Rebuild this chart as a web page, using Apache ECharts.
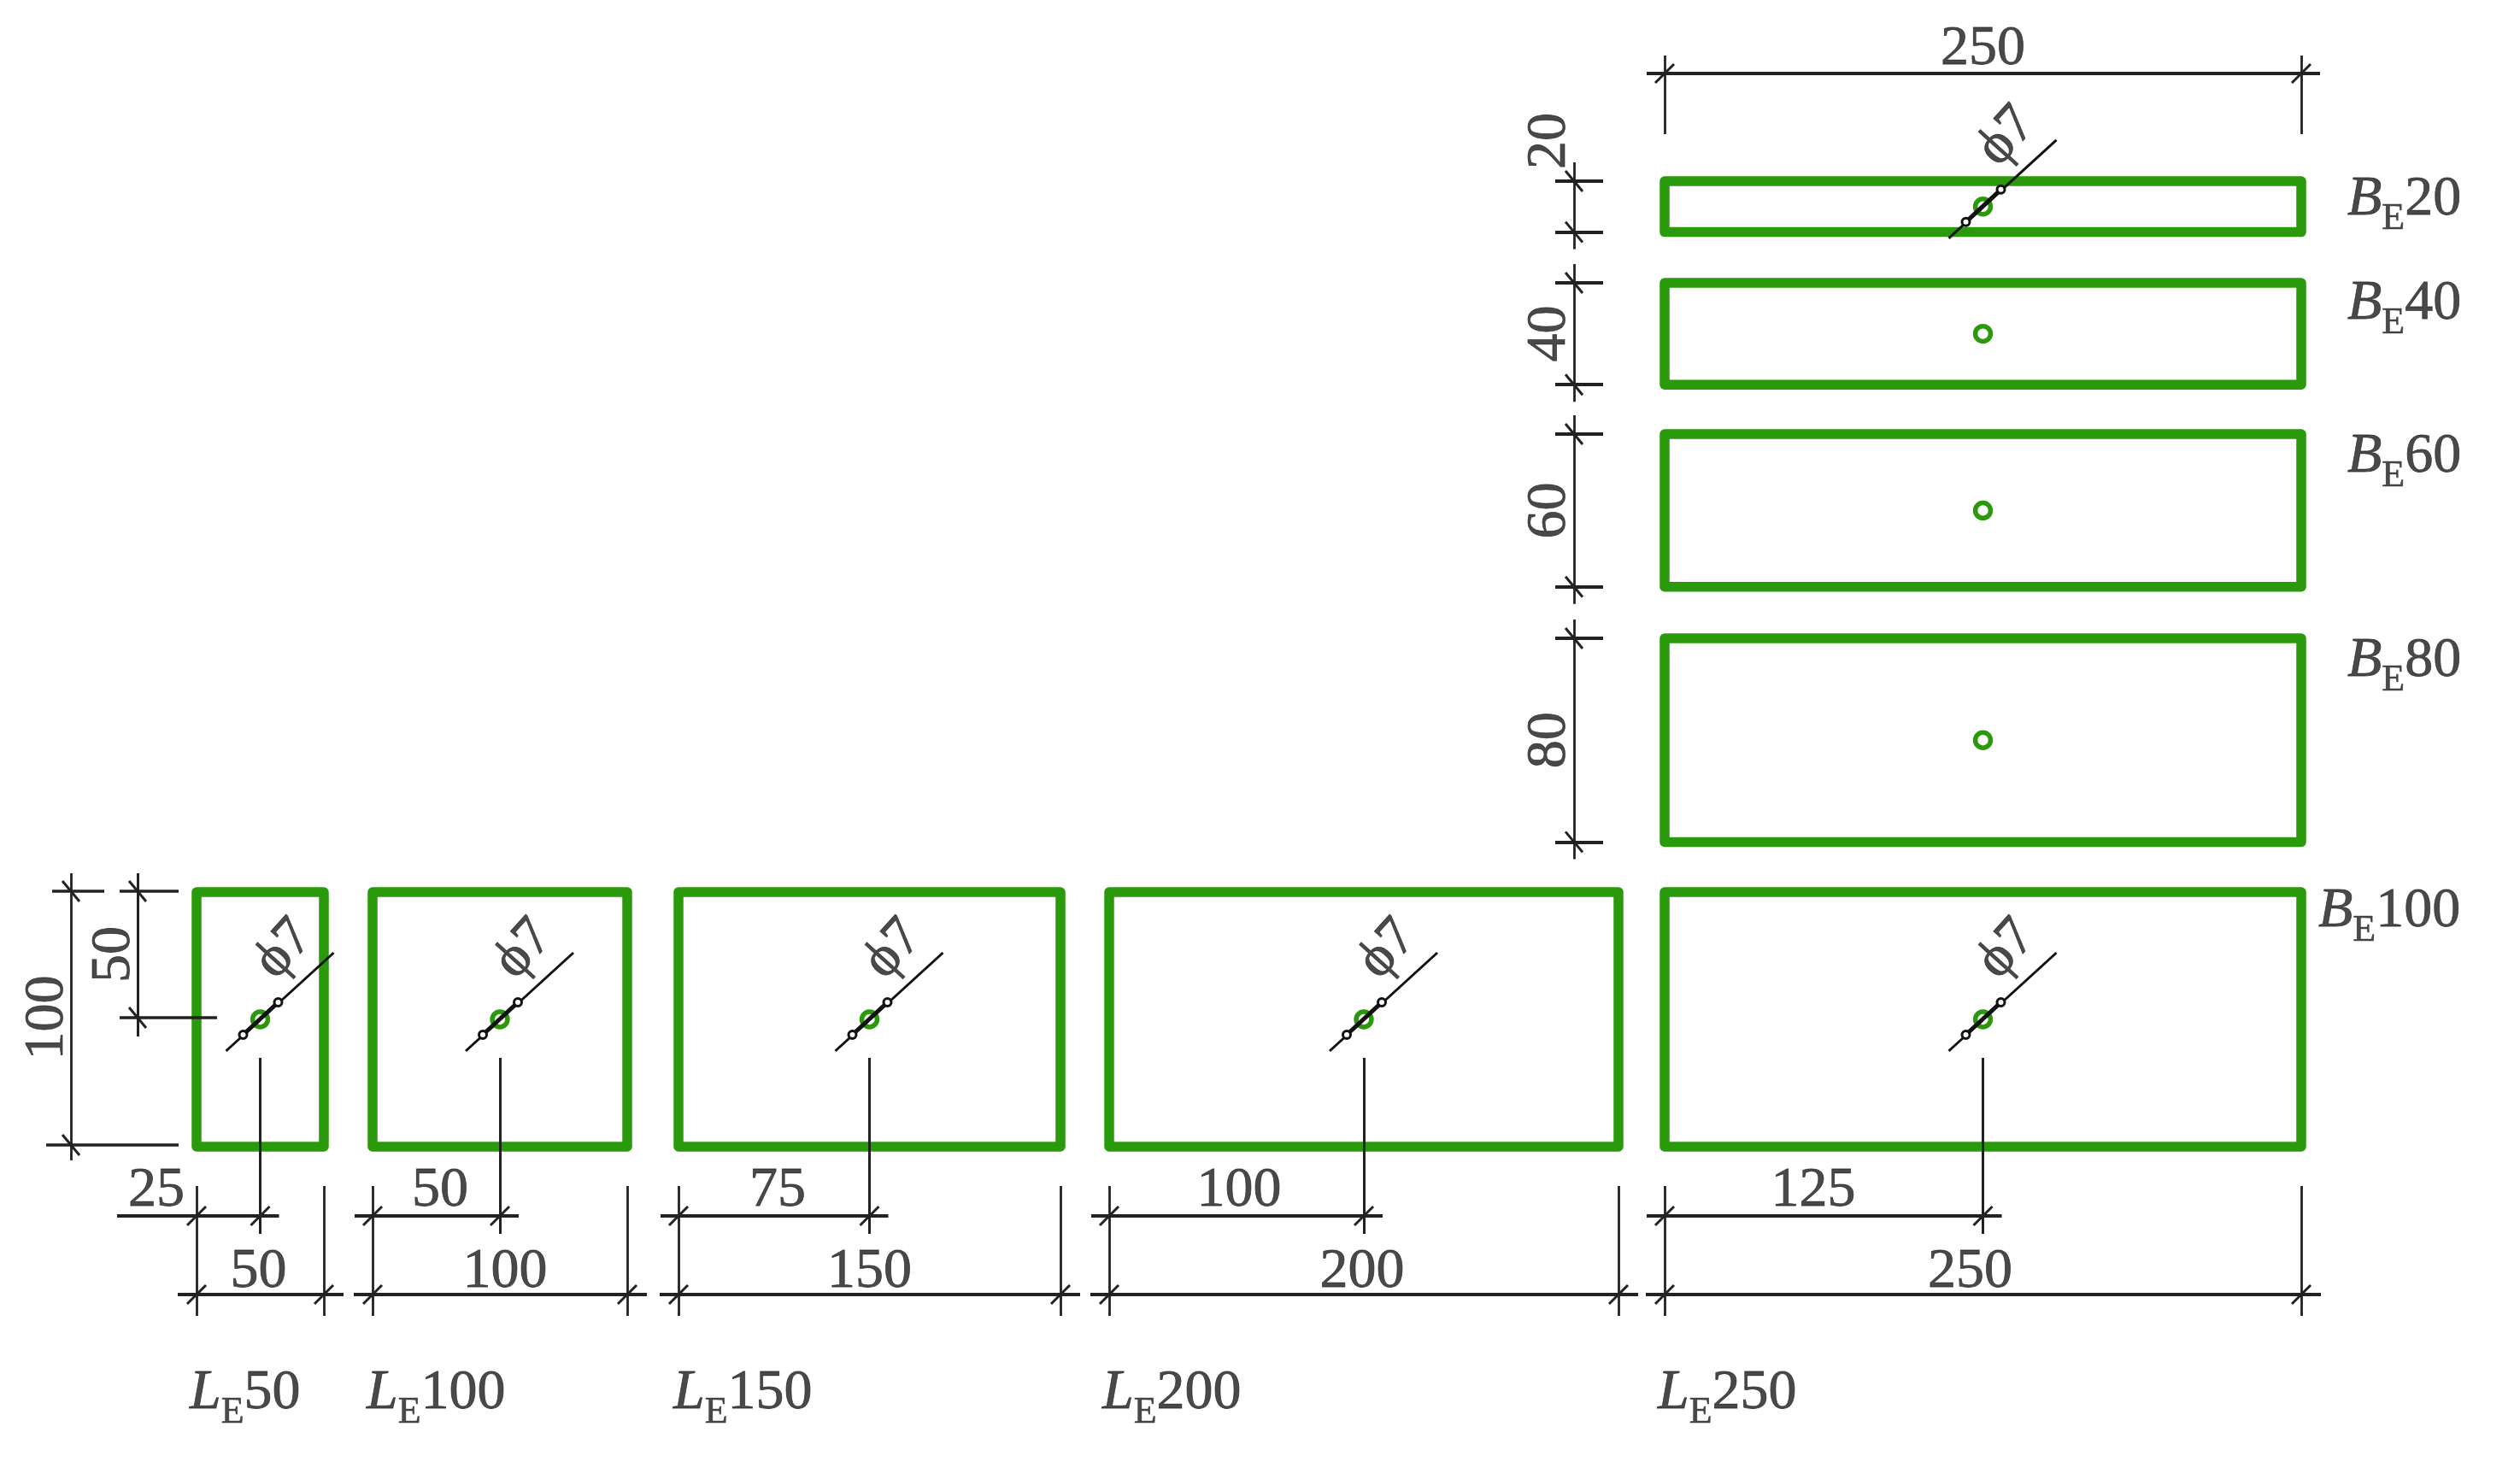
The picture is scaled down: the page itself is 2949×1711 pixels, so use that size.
<!DOCTYPE html>
<html>
<head>
<meta charset="utf-8">
<title>Specimen dimensions</title>
<script src="https://cdn.jsdelivr.net/npm/echarts@6/dist/echarts.min.js"></script>
<style>
html, body { margin: 0; padding: 0; background: #fff; }
#chart { width: 2949px; height: 1711px; }
</style>
</head>
<body>
<div id="chart"></div>
<script>
// all the sizes below are millimetres of the specimen
var lengths = [50, 100, 150, 200, 250];
var widths = [20, 40, 60, 80, 100];
var holeDiameter = 7;
var fixedWidth = 100;
var fixedLength = 250;
var halfLengthLabels = ['25', '50', '75', '100', '125'];
var leftDimLabels = ['100', '50'];

// layout of the sheet, in picture pixels
var pxPerMm = 2.98;
var lengthLeftPx = [230, 436, 794, 1298, 1948];
var widthTopPx = [212, 331, 508, 747, 1044];
var halfLabelPx = [183, 515, 910, 1450, 2122];
var fullLabelShiftPx = [-2, 6, 0, -2, -15];
var lengthNameLeftPx = [222, 429, 788, 1290, 1940];
var widthNameLeftPx = [2747, 2747, 2747, 2747, 2713];
var widthNameYPx = [234, 356, 535, 774, 1067];

var GREEN = '#2a9a0c';
var INK = '#222222';
var TEXT = '#1c1c1c';
var FONT = '"Liberation Serif", serif';
var FONT_SIZE = 66;

function mm(px) { return px / pxPerMm; }

var dimLines = [];
var leaderLines = [];
var texts = [];
var markers = [];
var holes = [];

function seg(list, x1, y1, x2, y2, w, color) {
    list.push({
        coords: [[mm(x1), mm(y1)], [mm(x2), mm(y2)]],
        lineStyle: { width: w, color: color || INK, opacity: 1, curveness: 0 }
    });
}
function slash(x, y) { seg(dimLines, x - 11, y + 11, x + 11, y - 11, 3); }
function backslash(x, y) { seg(dimLines, x - 10, y - 12, x + 10, y + 12, 3); }

function text(x, y, str, rotate, align) {
    texts.push({
        value: [mm(x), mm(y)],
        label: { formatter: str, rotate: rotate || 0, align: align || 'center' }
    });
}

// hole with the slanted leader and its phi label, px are taken from the hole centre
function leader(hx, hy) {
    seg(leaderLines, hx - 40, hy + 37, hx + 86, hy - 78, 3, '#111');
    seg(leaderLines, hx - 20, hy + 18, hx + 21, hy - 20, 5, '#111');
    markers.push([mm(hx - 20), mm(hy + 18)], [mm(hx + 21), mm(hy - 20)]);
    text(hx + 28, hy - 82, '\u03D57', 48);
}

// one rectangle per length, all with the same width, standing on the bottom row
var bottomTop = widthTopPx[4];
var rects = [];
lengths.forEach(function (L, i) {
    var x0 = mm(lengthLeftPx[i]), y0 = mm(bottomTop);
    rects.push([[x0, y0], [x0 + L, y0], [x0 + L, y0 + fixedWidth], [x0, y0 + fixedWidth], [x0, y0]]);

    var left = lengthLeftPx[i];
    var right = left + L * pxPerMm;
    var mid = left + L * pxPerMm / 2;
    var hy = bottomTop + fixedWidth * pxPerMm / 2;
    holes.push([x0 + L / 2, y0 + fixedWidth / 2]);
    leader(mid, hy);

    seg(dimLines, left, 1388, left, 1540, 2.8);
    seg(dimLines, right, 1388, right, 1540, 2.8);
    seg(dimLines, mid, 1238, mid, 1444, 3);

    var rowAStart = i === 0 ? left - 93 : left - 21;
    seg(dimLines, rowAStart, 1423, mid + 22, 1423, 4);
    seg(dimLines, left - 22, 1515, right + 23, 1515, 4);
    slash(left, 1423); slash(mid, 1423);
    slash(left, 1515); slash(right, 1515);

    text(halfLabelPx[i], 1394, halfLengthLabels[i]);
    text(mid + fullLabelShiftPx[i], 1489, String(L));
    text(lengthNameLeftPx[i], 1637, '{i|L}{s|E}{n|' + L + '}', 0, 'left');
});

// the rectangles of the width study share the length of the last one
widths.forEach(function (B, i) {
    var x0 = mm(lengthLeftPx[4]), y0 = mm(widthTopPx[i]);
    text(widthNameLeftPx[i], widthNameYPx[i] + 6, '{i|B}{s|E}{n|' + B + '}', 0, 'left');
    if (i === 4) return;
    rects.push([[x0, y0], [x0 + fixedLength, y0], [x0 + fixedLength, y0 + B], [x0, y0 + B], [x0, y0]]);
    holes.push([x0 + fixedLength / 2, y0 + B / 2]);

    var top = widthTopPx[i], bottom = top + B * pxPerMm;
    seg(dimLines, 1842, top - 22, 1842, bottom + 20, 2.8);
    seg(dimLines, 1820, top, 1876, top, 4);
    seg(dimLines, 1820, bottom, 1876, bottom, 4);
    backslash(1842, top); backslash(1842, bottom);
    text(1814, i === 0 ? 165 : (top + bottom) / 2, String(B), 90);
});
leader(lengthLeftPx[4] + fixedLength * pxPerMm / 2, widthTopPx[0] + widths[0] * pxPerMm / 2);

// dimension over the whole length, at the top
var topLeft = lengthLeftPx[4], topRight = topLeft + fixedLength * pxPerMm;
seg(dimLines, topLeft, 65, topLeft, 157, 2.8);
seg(dimLines, topRight, 65, topRight, 157, 2.8);
seg(dimLines, topLeft - 21, 86, topRight + 22, 86, 4);
slash(topLeft, 86); slash(topRight, 86);
text((topLeft + topRight) / 2, 58, String(fixedLength));

// width and half width of the first rectangle, on the far left
seg(dimLines, 83, 1022, 83, 1358, 2.8);
seg(dimLines, 61, 1043, 122, 1043, 3.6);
seg(dimLines, 54, 1340, 209, 1340, 3.6);
backslash(83, 1043); backslash(83, 1340);
seg(dimLines, 161, 1022, 161, 1213, 3);
seg(dimLines, 140, 1043, 209, 1043, 3.6);
seg(dimLines, 140, 1191, 254, 1191, 3.6);
backslash(161, 1043); backslash(161, 1191);
text(56, 1191, leftDimLabels[0], 90);
text(134, 1117, leftDimLabels[1], 90);

var series = rects.map(function (r) {
    return {
        type: 'line',
        data: r,
        showSymbol: false,
        silent: true,
        clip: false,
        z: 2,
        lineStyle: { color: GREEN, width: 11.5, join: 'round', cap: 'round' }
    };
});
series.push({
    type: 'scatter',
    data: holes,
    symbol: 'circle',
    symbolSize: holeDiameter * pxPerMm - 3,
    z: 3,
    silent: true,
    itemStyle: { color: '#fff', borderColor: GREEN, borderWidth: 5.5, opacity: 1 }
});
series.push({
    type: 'lines',
    coordinateSystem: 'cartesian2d',
    data: dimLines,
    z: 4,
    silent: true
});
series.push({
    type: 'lines',
    coordinateSystem: 'cartesian2d',
    data: leaderLines,
    z: 5,
    silent: true
});
series.push({
    type: 'scatter',
    data: markers,
    symbol: 'circle',
    symbolSize: 9,
    z: 6,
    silent: true,
    itemStyle: { color: '#fff', borderColor: '#111', borderWidth: 3, opacity: 1 }
});
series.push({
    type: 'scatter',
    data: texts,
    symbolSize: 1,
    z: 7,
    silent: true,
    itemStyle: { color: 'transparent' },
    label: {
        show: true,
        position: 'inside',
        verticalAlign: 'middle',
        color: TEXT,
        fontFamily: FONT,
        fontSize: FONT_SIZE,
        textBorderColor: '#2c2c2c',
        textBorderWidth: 0.8,
        rich: {
            i: { fontFamily: FONT, fontSize: FONT_SIZE, fontStyle: 'italic', color: TEXT, textBorderColor: '#2c2c2c', textBorderWidth: 0.8, verticalAlign: 'top', height: 64, lineHeight: 76 },
            s: { fontFamily: FONT, fontSize: 44, color: TEXT, textBorderColor: '#2c2c2c', textBorderWidth: 0.6, verticalAlign: 'bottom', height: 44, lineHeight: 76 },
            n: { fontFamily: FONT, fontSize: FONT_SIZE, color: TEXT, textBorderColor: '#2c2c2c', textBorderWidth: 0.8, verticalAlign: 'top', height: 64, lineHeight: 76 }
        }
    }
});

var chart = echarts.init(document.getElementById('chart'));
chart.setOption({
    backgroundColor: '#fff',
    animation: false,
    grid: { left: 0, right: 0, top: 0, bottom: 0 },
    xAxis: { type: 'value', min: 0, max: 2949 / pxPerMm, show: false },
    yAxis: { type: 'value', min: 0, max: 1711 / pxPerMm, inverse: true, show: false },
    series: series
});
</script>
</body>
</html>
